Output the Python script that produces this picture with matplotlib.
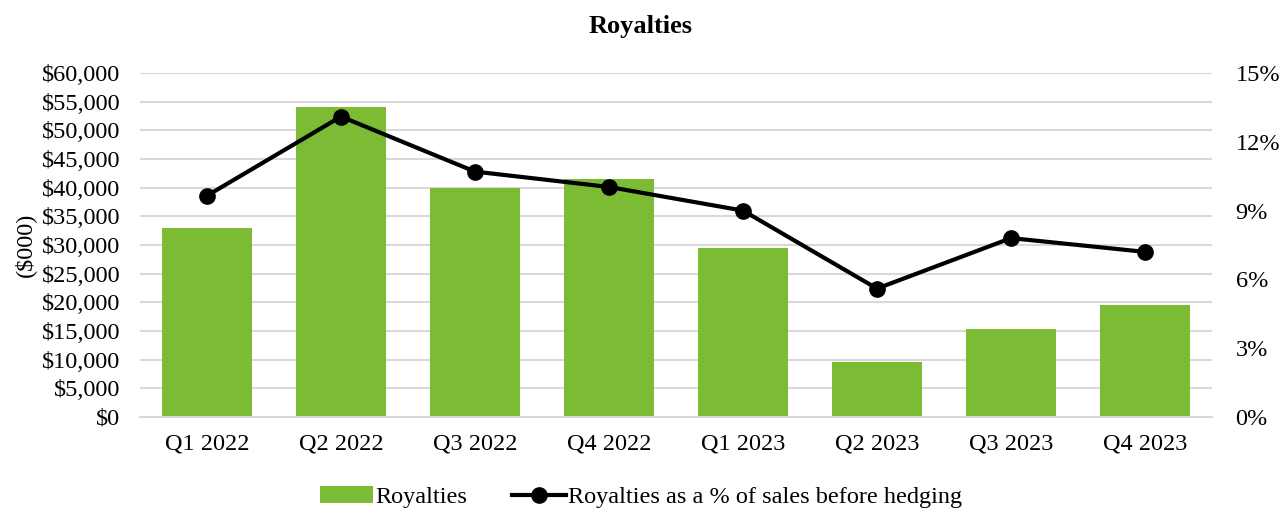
import numpy as np
import matplotlib.pyplot as plt
from matplotlib.ticker import FuncFormatter, MultipleLocator

quarters = ["Q1 2022", "Q2 2022", "Q3 2022", "Q4 2022",
            "Q1 2023", "Q2 2023", "Q3 2023", "Q4 2023"]
royalties = [33000, 54000, 40000, 41500, 29500, 9600, 15300, 19500]
pct_of_sales = [9.65, 13.1, 10.7, 10.03, 9.0, 5.6, 7.8, 7.2]

plt.rcParams["font.family"] = ["Liberation Serif", "DejaVu Serif"]
FS = 17.5

fig = plt.figure(figsize=(12.82, 5.08), dpi=100)
ax = fig.add_axes([140 / 1282, 1 - 417 / 508, (1212 - 140) / 1282, 344 / 508])
ax2 = ax.twinx()

x = np.arange(len(quarters))
bars = ax.bar(x, royalties, width=0.67, color="#7cbc34", zorder=2, label="Royalties")
line, = ax2.plot(x, pct_of_sales, color="black", lw=3, marker="o", ms=11,
                 label="Royalties as a % of sales before hedging", zorder=3)

ax.set_xlim(-0.5, len(quarters) - 0.5)
ax.set_ylim(0, 60000)
ax.yaxis.set_major_locator(MultipleLocator(5000))
ax.yaxis.set_major_formatter(FuncFormatter(lambda v, p: f"${v:,.0f}"))
ax2.set_ylim(0, 15)
ax2.yaxis.set_major_locator(MultipleLocator(3))
ax2.yaxis.set_major_formatter(FuncFormatter(lambda v, p: f"{v:.0f}%"))

ax.grid(axis="y", color="#d9d9d9", lw=1.5, zorder=0)
ax.set_axisbelow(True)
for a in (ax, ax2):
    for s in a.spines.values():
        s.set_visible(False)
    a.tick_params(length=0, labelsize=FS)
ax.spines["bottom"].set_visible(True)
ax.spines["bottom"].set_color("#d9d9d9")
ax.spines["bottom"].set_linewidth(1.5)

ax.set_xticks(x)
ax.set_xticklabels(quarters)
ax.tick_params(axis="x", pad=12)
ax.tick_params(axis="y", pad=14)
ax2.tick_params(axis="y", pad=17)
ax.set_ylabel("($000)", fontsize=FS, labelpad=4)

fig.text(0.5, 1 - 27 / 508, "Royalties", ha="center", va="center",
         fontsize=19, fontweight="bold")

fig.legend(handles=[bars, line], loc="center", bbox_to_anchor=(0.5, 1 - 497 / 508),
           ncol=2, frameon=False, fontsize=FS, handlelength=2.2, columnspacing=1.85,
           handletextpad=0.1)

fig.savefig("out.png", dpi=100)
